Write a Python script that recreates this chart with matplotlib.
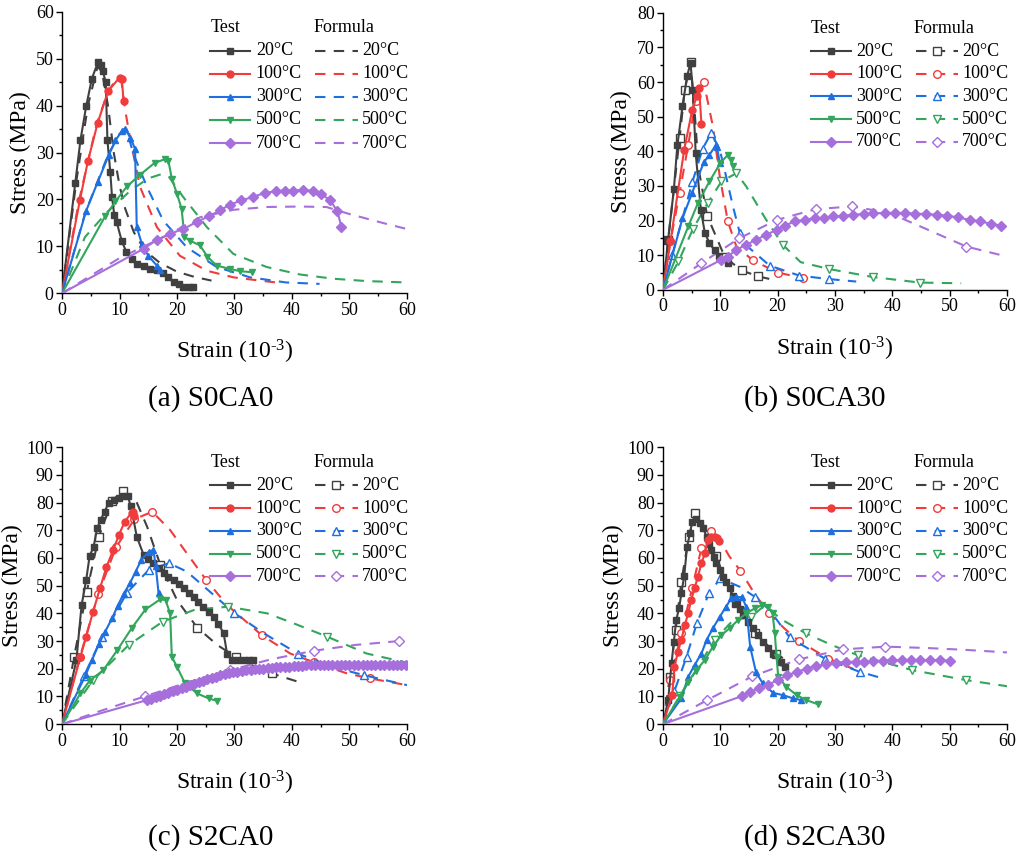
import numpy as np
import matplotlib
matplotlib.use("Agg")
import matplotlib.pyplot as plt
from matplotlib.ticker import MultipleLocator

plt.rcParams['font.family'] = ['Liberation Serif', 'DejaVu Serif']
plt.rcParams['mathtext.fontset'] = 'custom'
plt.rcParams['mathtext.rm'] = 'Liberation Serif'
plt.rcParams['mathtext.default'] = 'regular'

# ---------------- data ----------------
temps = ['20°C', '100°C', '300°C', '500°C', '700°C']
colors = ['#404040', '#F03C3C', '#1E6FE0', '#33A55C', '#A66FDB']
markers = ['s', 'o', '^', 'v', 'D']
captions = ['(a) S0CA0', '(b) S0CA30', '(c) S2CA0', '(d) S2CA30']
y_max = [60, 80, 100, 100]

# Panel (a) S0CA0
A_T20 = [(0,0),(2.3,23.5),(3.2,32.6),(4.2,39.9),(5.2,45.8),(6.25,49.3),(6.7,48.6),(7.1,47.4),(7.6,45.0),(7.9,32.6),(8.4,25.8),(8.7,20.5),(9.1,16.6),(9.5,15.2),(10.4,11.1),(11.2,8.8),(12.2,7.3),(13.0,6.3),(14.2,5.9),(15.3,5.2),(16.5,5.0),(17.6,4.3),(18.5,3.4),(19.4,2.3),(20.3,1.9),(21.1,1.4),(22.0,1.3),(22.7,1.3)]
A_T100 = [(0,0),(3.1,19.8),(4.5,28.2),(6.2,36.3),(8.0,43.1),(10.0,46.0),(10.4,45.7),(10.7,41.0)]
A_T300 = [(0,0),(4.2,17.6),(6.2,23.7),(8.1,29.4),(9.3,32.6),(10.4,34.6),(10.9,35.1),(11.9,33.2),(12.7,30.8),(13.0,14.1),(13.9,10.5),(15.0,8.0),(16.5,5.9),(17.0,5.0)]
A_T500 = [(0,0),(7.5,16.4),(9.3,19.6),(11.3,22.8),(13.6,25.3),(16.1,27.8),(17.9,28.6),(18.5,28.3),(19.1,24.4),(20.0,21.2),(20.8,18.0),(21.3,12.0),(22.3,11.2),(24.0,10.2),(25.3,7.8),(26.9,5.9),(29.2,5.2),(31.0,4.7),(33.0,4.5)]
A_T700 = [(0,0),(14.2,9.5),(16.5,11.4),(18.8,12.7),(21.1,13.7),(23.4,15.2),(25.5,16.4),(27.5,17.7),(29.2,18.9),(31.2,19.8),(33.3,20.6),(35.3,21.4),(37.3,21.8),(38.8,21.9),(40.2,21.9),(41.9,22.1),(43.7,21.8),(45.1,21.1),(46.6,19.9),(47.9,17.5),(48.6,14.1)]
A_F20 = [(0,0),(2.5,24),(4.5,40),(6.2,48.5),(7.0,47),(8.0,40),(9.0,30),(10.0,23),(11.0,18),(12.5,13),(14.5,9),(17,6.5),(20,4.6),(23,3.5),(26,2.7)]
A_F100 = [(0,0),(3,20),(6,36),(8,43),(9.5,45.8),(10.3,45.5),(11,39),(11.9,32.6),(13.6,22.6),(16.5,14.1),(20.5,8),(25.2,4.8),(29.8,3.4),(34.4,2.7),(37.3,2.3)]
A_F300 = [(0,0),(4,17),(8,29.5),(10,34),(11.2,35),(12.4,29.8),(14.8,22.6),(17.6,15.5),(21.7,9.8),(26.9,5.6),(32.7,3.4),(39,2.3),(44.8,2.0)]
A_F500 = [(0,0),(4,12),(8,17.5),(12,22),(15,24.5),(17,25.3),(18.5,25),(21.1,20.5),(25.2,14.1),(29.8,8.4),(35.6,5.6),(41.4,4.0),(47.2,3.1),(53,2.6),(60,2.3)]
A_F700 = [(0,0),(10,7.5),(18.2,12.3),(24,16.2),(29.8,17.8),(35.6,18.4),(41.4,18.5),(46,18.4),(50,16.9),(55.8,15),(60,13.7)]
A_FM = [None, None, None, None, None]

# Panel (b) S0CA30
B_T20 = [(0,0),(0.9,14.5),(1.9,29.1),(2.5,41.7),(3.4,53),(4.2,61.7),(4.8,65.5),(5.2,57.8),(5.7,39.5),(6.6,23.1),(7.3,16.4),(8.1,13.5),(9.0,11.4),(9.8,9.8),(11.3,7.7)]
B_T100 = [(0,0),(1.3,14),(3.7,40.5),(5.1,52),(5.9,55.9),(6.3,58.3),(6.7,48)]
B_T300 = [(0,0),(3.4,20.7),(5.1,28.1),(7.1,36.8),(8.1,39),(9.2,41.7),(9.4,41.3),(9.9,36.6)]
B_T500 = [(0,0),(4.4,18.3),(6.1,25.1),(8.1,31.3),(10,36.6),(11.3,39),(11.9,37.6),(12.2,35.7)]
B_T700 = [(0,0),(10.2,8.7),(11.3,9.6),(12.8,11.6),(14.5,13),(16.3,14.5),(18,15.9),(19.8,17.3),(21.2,18.5),(23,19.8),(24.7,20.2),(26.5,20.7),(28,20.7),(29.7,21.2),(31.4,21.4),(33.1,21.7),(35,21.9),(36.7,22.1),(38.7,22.2),(40.4,22.2),(42.2,22.2),(43.9,22),(45.8,21.9),(47.7,21.7),(49.6,21.4),(51.5,20.9),(53.5,20.2),(55.2,19.8),(57.2,19.1),(59,18.5)]
B_F20 = [(0,0),(0.9,14.5),(2.9,43.9),(3.8,57.8),(4.8,65.7),(5.5,52),(6.2,35),(7.7,21.4),(10.8,9.4),(13.7,5.6),(16.6,3.9),(19.2,2.9)]
B_F100 = [(0,0),(1.3,14),(2.9,28.1),(4.4,41.9),(5.7,54.5),(7.1,60),(8.7,47.2),(9.9,32.8),(11.3,19.8),(12.8,12.5),(15.7,8.5),(20,5),(24.4,3.4),(26.7,3.1)]
B_F300 = [(0,0),(1.6,10.1),(3.4,20.7),(5.1,31),(6.9,40.7),(8.4,45.3),(9.9,40.5),(11,32.8),(12.2,24.1),(13.4,16.4),(15.1,12),(18.6,7),(23.8,4.1),(29,3.1),(33.7,2.4)]
B_F500 = [(0,0),(2.7,8.2),(5.2,17.5),(7.8,25.1),(10.2,31.3),(12.8,33.7),(14.5,29.9),(18,20.2),(20.9,13),(24,8),(29,6),(36.6,3.7),(44.8,2.1),(52,1.9)]
B_F700 = [(0,0),(6.7,7.7),(13.3,14.9),(19.9,20.2),(26.6,23.3),(33,24.1),(39.5,22.2),(46,17.5),(52.9,12.5),(60,9.6)]
B_FM = [[1,2,3,4,7,8,9,10], [1,2,3,4,5,8,10,11,12], [1,3,4,5,9,11,12,13], [1,2,3,4,5,8,10,11,12], [1,2,3,4,5,8]]

# Panel (c) S2CA0
C_T20 = [(0,0),(2.5,23.1),(3.4,42.9),(4.2,52),(4.8,60.7),(5.5,64.1),(6.1,70.7),(6.7,73.7),(7.4,76.7),(8.1,79.8),(9,81),(9.9,81.6),(10.6,82.4),(11.4,82.4),(12,78.6),(13,67.7),(14.2,61.1),(15.0,59.5),(15.9,58.1),(16.8,56.4),(17.7,54.7),(18.5,53.3),(19.4,52),(20.3,50.5),(21.2,49),(22,47.5),(22.9,46),(23.7,44.2),(24.6,42.4),(25.5,40.6),(26.4,38.8),(27.2,36),(28.1,33),(28.7,25.5),(29.6,23.1),(30.6,23.1),(31.6,23.1),(32.5,23.1),(33.3,23.1)]
C_T100 = [(0,0),(3.2,24.3),(4.2,31.6),(5.4,40.6),(6.6,49),(7.7,56.6),(8.9,62.9),(9.9,68.3),(10.9,73.1),(12.1,76.4),(12.3,76.7),(12.6,75)]
C_T300 = [(0,0),(4.1,17.7),(5.2,23.1),(6.4,28.9),(7.5,33.4),(8.7,38.2),(9.7,42.8),(10.7,47),(11.8,50.8),(12.8,55.1),(13.8,59.3),(15.1,62.3),(15.9,62.9),(16.3,57),(16.8,47.2)]
C_T500 = [(0,0),(3.2,11.1),(4.8,15.7),(7.2,19.5),(9.6,26.7),(12.2,34.9),(14.5,41.4),(17.1,45.1),(18,44.8),(18.8,40),(19.1,24.3),(20,20.7),(21.4,14.7),(23.5,11.1),(25.5,9.3),(27,8.4)]
C_T700 = [(0,0),(14.8,8.7),(15.5,9.2),(16.3,9.7),(17,10.2),(17.8,10.8),(18.5,11.3),(19.3,11.9),(20,12.4),(20.8,13),(21.5,13.5),(22.3,14),(23,14.5),(23.8,15.1),(24.5,15.6),(25.3,16.2),(26,16.7),(26.8,17.2),(27.5,17.6),(28.3,18),(29,18.4),(29.8,18.7),(30.5,19),(31.3,19.3),(32,19.5),(32.8,19.7),(33.5,19.8),(34.3,20),(35,20.1),(35.8,20.3),(36.5,20.4),(37.3,20.5),(38,20.6),(38.8,20.7),(39.5,20.8),(40.3,20.9),(41,21),(41.8,21.1),(42.5,21.2),(43.3,21.2),(44,21.3),(44.8,21.3),(45.5,21.4),(46.3,21.4),(47,21.4),(47.8,21.5),(48.5,21.5),(49.3,21.5),(50,21.5),(50.8,21.5),(51.5,21.5),(52.3,21.5),(53,21.5),(53.8,21.5),(54.5,21.5),(55.3,21.5),(56,21.5),(56.8,21.5),(57.5,21.5),(58.3,21.5),(59,21.5),(59.8,21.5)]
C_F20 = [(0,0),(2.1,24.3),(4.3,47.8),(6.4,67.7),(8.7,80.6),(10.6,84.3),(12.8,81),(14.8,71.3),(17.1,57.5),(20,44.8),(23.5,34.9),(27,28.6),(30.2,24.3),(33.3,21),(36.5,18.3),(42,14.7)]
C_F100 = [(0,0),(3.1,24.1),(6.3,47),(9.4,63.9),(12.6,74),(15.7,76.7),(18.8,70.1),(21.7,61.7),(25.1,52),(28.7,43),(34.7,32.2),(39.7,25.5),(43.9,22.3),(49.6,18.3),(53.6,16.5),(60,14.1)]
C_F300 = [(0,0),(3.8,17.3),(7,31.6),(11.3,47.5),(15.1,55.7),(18.6,58.1),(21.7,55.1),(26.4,46.6),(29.9,40.2),(35.1,32.8),(41,25.5),(46.5,21),(52.5,17.7),(60,14.1)]
C_F500 = [(0,0),(5.4,15.9),(11.6,28.6),(17.5,37),(23.2,41.4),(28.9,42.4),(35.7,40),(40.3,36.4),(46.1,31.6),(53,25.5),(60,22.2)]
C_F700 = [(0,0),(7,5),(14.5,10.1),(22,15.2),(29.2,19.5),(36.5,23.5),(43.8,26.5),(51,28.6),(58.6,30)]
C_FM = [[1,2,3,4,5,8,10,12,14], [1,2,3,4,5,8,10,12,14], [1,2,3,4,5,8,10,12], [1,2,3,5,8], [2,4,6,8]]

# Panel (d) S2CA30
D_T20 = [(0,0),(0.9,8.7),(1.5,22.2),(1.9,29.8),(2.3,37.6),(2.8,41.8),(3.2,47.2),(3.7,53.5),(4.2,64.1),(4.7,68.9),(5.1,73.1),(5.8,74),(6.4,72.8),(7,70.7),(7.6,67.7),(8.0,65.2),(8.4,62.9),(8.9,60.5),(9.3,58.3),(9.9,55.8),(10.5,53.3),(11.0,51.2),(11.6,49),(12.2,46.3),(12.8,43.6),(13.4,41.5),(14,39.4),(14.8,37),(15.7,34.6),(16.5,32.2),(17.4,29.8),(18.3,27.6),(19.2,25.5),(20.6,22.5),(21.2,20.7)]
D_T100 = [(0,0),(1.6,10.5),(2,20.7),(2.6,26.1),(3.2,30.4),(3.8,35.8),(4.4,40),(4.9,44.8),(5.5,49),(6.1,53.3),(6.7,58.1),(7.3,61.7),(7.8,66.5),(8.4,67.7),(9,67.7),(9.4,67.1),(9.7,66)]
D_T300 = [(0,0),(3.2,9.3),(4.4,17.1),(5.5,21.3),(6.7,25.5),(7.6,30.4),(8.7,34.6),(9.9,38.8),(11,42.4),(11.9,45.4),(12.8,46),(13.8,45.8),(14.5,42.4),(15.2,28),(16.2,18.9),(17.4,14.7),(19.2,11.3),(20.9,10.5),(22.7,9.3),(24.1,8.7)]
D_T500 = [(0,0),(2.9,9.9),(4.4,15.3),(5.8,19.5),(7.3,23.1),(8.7,28),(10.2,32.2),(11.6,34.6),(13.1,37.6),(14.5,40),(16,41.8),(17.3,43),(18.3,42.4),(19.1,40),(19.5,32.8),(19.8,24.3),(20.1,17.1),(21.5,13.5),(23.3,10.5),(25,8.7),(27,7.2)]
D_T700 = [(0,0),(13.7,10.1),(15.2,11.7),(16.7,12.9),(18.3,14.3),(20.1,15.9),(21.7,17.7),(23.4,18.9),(25.1,20.1),(26.7,21),(28.5,21.7),(30.2,22.2),(32,22.5),(33.7,22.5),(35.1,22.5),(36.6,22.8),(38.4,22.8),(39.9,23.1),(41.6,23.1),(43.2,23.1),(44.9,23.1),(46.5,23.1),(48.3,23.1),(50,22.9)]
D_F20 = [(0,0),(1.2,17.1),(2.2,34),(3.2,51.4),(4.5,67.7),(5.6,76.1),(7,71.9),(9.2,60.7),(12.7,43.6),(16.1,32.8),(19.7,25.5),(22.1,22.2)]
D_F100 = [(0,0),(1.3,16.1),(3.2,32.8),(5.1,49.3),(6.7,63.5),(8.3,69.9),(9.9,66.5),(11.6,60.5),(13.5,55.4),(16,47),(18.5,40),(21.2,34.5),(23.7,30),(28.8,23.7),(33.7,19.5)]
D_F300 = [(0,0),(2,12),(4.1,24.3),(5.9,36.4),(8,47.2),(10,52.6),(13.4,49.6),(16,46),(18.6,41.2),(22.1,31.3),(28.2,23.7),(34.3,18.9),(38.4,16.5)]
D_F500 = [(0,0),(2.9,10.1),(5.8,19.5),(9,30.4),(12.2,37.5),(15.4,38.8),(17.8,43),(20.5,38),(24.9,32.8),(29.5,28.5),(34,24.9),(43.5,19.5),(52.9,15.9),(60,13.7)]
D_F700 = [(0,0),(7.7,8.7),(15.6,17.3),(23.7,23.4),(31.4,27),(38.8,28),(46,27.5),(53,26.8),(60,25.9)]
D_FM = [[1,2,3,4,5,7,8,9,10], [1,2,3,4,5,8,10,12,13], [1,2,3,4,5,7,9,10,11], [1,2,3,5,8,10,11,12], [1,2,3,4,5]]

panels = [
    ([A_T20, A_T100, A_T300, A_T500, A_T700], [A_F20, A_F100, A_F300, A_F500, A_F700], A_FM, False),
    ([B_T20, B_T100, B_T300, B_T500, B_T700], [B_F20, B_F100, B_F300, B_F500, B_F700], B_FM, True),
    ([C_T20, C_T100, C_T300, C_T500, C_T700], [C_F20, C_F100, C_F300, C_F500, C_F700], C_FM, True),
    ([D_T20, D_T100, D_T300, D_T500, D_T700], [D_F20, D_F100, D_F300, D_F500, D_F700], D_FM, True),
]

# ---------------- layout ----------------
fig = plt.figure(figsize=(10.2, 8.55), dpi=100)
rects = [[0.0608, 0.657, 0.3382, 0.329],
         [0.650, 0.661, 0.3373, 0.324],
         [0.0608, 0.153, 0.3382, 0.324],
         [0.650, 0.153, 0.3373, 0.324]]
cap_pos = [(0.207, 0.534), (0.799, 0.534), (0.207, 0.021), (0.799, 0.021)]

DASH = (0, (5, 4))
LW = 1.5
MS_T = 5
MS_F = 5.5

for k, (tests, forms, fmarks, open_mk) in enumerate(panels):
    ax = fig.add_axes(rects[k])
    for i in range(5):
        f = np.array(forms[i])
        ax.plot(f[:, 0], f[:, 1], color=colors[i], lw=LW, ls=DASH,
                marker=markers[i] if open_mk else None, ms=MS_F, mfc='white',
                mec=colors[i], mew=1.0,
                markevery=fmarks[i] if open_mk else None, zorder=2)
    for i in range(5):
        t = np.array(tests[i])
        ax.plot(t[:, 0], t[:, 1], color=colors[i], lw=LW, ls='-',
                marker=markers[i], ms=MS_T, mfc=colors[i], mec=colors[i],
                markevery=slice(1, None), zorder=3)

    ax.set_xlim(0, 60)
    ax.set_ylim(0, y_max[k])
    ax.xaxis.set_major_locator(MultipleLocator(10))
    ax.xaxis.set_minor_locator(MultipleLocator(5))
    ax.yaxis.set_major_locator(MultipleLocator(10))
    ax.yaxis.set_minor_locator(MultipleLocator(5))
    ax.spines['top'].set_visible(False)
    ax.spines['right'].set_visible(False)
    for s in ('left', 'bottom'):
        ax.spines[s].set_linewidth(1.0)
    ax.tick_params(which='major', direction='out', length=4, width=1.0,
                   labelsize=13, pad=2)
    ax.tick_params(which='minor', direction='out', length=2.5, width=1.0)
    ax.set_xlabel('Strain (10$^{\u2010' + '3}$)', fontsize=17, labelpad=14)
    ax.set_ylabel('Stress (MPa)', fontsize=17, labelpad=3)

    # legend built by hand
    y0, dy = 0.862, 0.082
    xs_t = (0.430, 0.545)
    xs_f = (0.734, 0.858)
    ax.text(xs_t[0], 0.945, 'Test', transform=ax.transAxes, fontsize=13,
            va='center', ha='left')
    ax.text(xs_f[0] - 0.005, 0.945, 'Formula', transform=ax.transAxes, fontsize=13,
            va='center', ha='left')
    for i in range(5):
        y = y0 - i * dy
        ax.plot(xs_t, [y, y], transform=ax.transAxes, color=colors[i], lw=LW,
                clip_on=False, zorder=5)
        ax.plot([np.mean(xs_t)], [y], transform=ax.transAxes, color=colors[i],
                marker=markers[i], ms=MS_T, clip_on=False, zorder=6)
        ax.text(0.562, y, temps[i], transform=ax.transAxes, fontsize=13,
                va='center', ha='left')
        ax.plot(xs_f, [y, y], transform=ax.transAxes, color=colors[i], lw=LW,
                ls=DASH, clip_on=False, zorder=5)
        if open_mk:
            ax.plot([0.795], [y], transform=ax.transAxes, color=colors[i],
                    marker=markers[i], ms=MS_F, mfc='white', mec=colors[i],
                    mew=1.0, clip_on=False, zorder=6, ls='none')
        ax.text(0.870, y, temps[i], transform=ax.transAxes, fontsize=13,
                va='center', ha='left')

    fig.text(cap_pos[k][0], cap_pos[k][1], captions[k], fontsize=21,
             ha='center', va='center')

fig.savefig('out.png', dpi=100)
